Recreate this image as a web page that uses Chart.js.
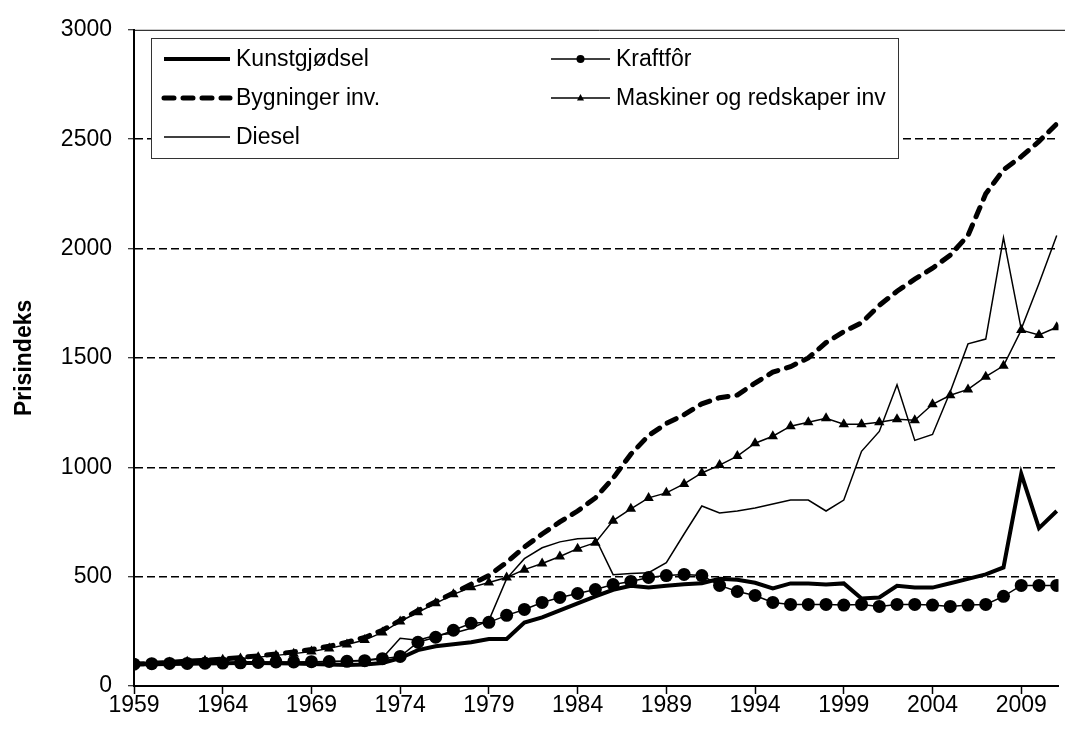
<!DOCTYPE html>
<html>
<head>
<meta charset="utf-8">
<script src="https://cdn.jsdelivr.net/npm/chart.js@4/dist/chart.umd.min.js"></script>
<style>
  html, body { margin: 0; padding: 0; background: #fff; }
  #wrap { width: 1065px; height: 729px; }
</style>
</head>
<body>
<div id="wrap"><canvas id="chart" width="1065" height="729"></canvas></div>
<script>
const years = [];
for (let y = 1959; y <= 2011; y++) years.push(y);

const xTickYears = [1959, 1964, 1969, 1974, 1979, 1984, 1989, 1994, 1999, 2004, 2009];

const kunstgjodsel = [100, 100, 101, 102, 103, 104, 105, 105, 104, 103, 101, 98, 96, 98, 105,
  127, 164, 182, 191, 200, 215, 215, 290, 314, 346, 378, 410, 440, 458, 450, 458, 465, 470,
  490, 486, 472, 446, 469, 469, 464, 469, 400, 405, 458, 450, 450, 470, 490, 510, 542, 970, 722, 800];

const kraftfor = [100, 102, 103, 103, 104, 105, 106, 108, 110, 110, 111, 112, 113, 116, 125,
  135, 200, 223, 255, 287, 291, 323, 350, 382, 405, 423, 441, 464, 478, 496, 505, 510, 505,
  460, 432, 414, 382, 373, 373, 373, 370, 373, 364, 373, 373, 370, 364, 370, 373, 410, 460, 460, 460];

const bygninger = [100, 104, 108, 113, 118, 123, 130, 138, 146, 156, 167, 182, 200, 222, 255,
  300, 345, 385, 425, 465, 505, 565, 635, 695, 750, 800, 860, 950, 1060, 1145, 1200, 1240, 1290,
  1318, 1330, 1385, 1435, 1460, 1500, 1570, 1620, 1660, 1740, 1805, 1860, 1910, 1970, 2060, 2250,
  2360, 2420, 2490, 2570];

const maskiner = [100, 103, 107, 111, 115, 120, 126, 132, 140, 148, 158, 172, 190, 210, 245,
  295, 337, 378, 419, 451, 473, 496, 532, 560, 592, 628, 655, 756, 810, 860, 883, 924, 974,
  1010, 1051, 1110, 1142, 1188, 1206, 1224, 1197, 1197, 1206, 1220, 1215, 1288, 1329, 1356,
  1414, 1464, 1627, 1605, 1640];

const diesel = [100, 100, 101, 102, 103, 104, 105, 106, 107, 108, 110, 112, 114, 118, 128,
  218, 209, 232, 241, 264, 300, 491, 582, 632, 659, 673, 677, 509, 514, 518, 564, 695, 823,
  791, 800, 814, 832, 850, 850, 800, 850, 1073, 1164, 1377, 1123, 1150, 1345, 1564, 1586,
  2050, 1632, 1840, 2060];

const FONT = "'Liberation Sans', Arial, sans-serif";

function toPoints(values) {
  return values.map((v, i) => ({x: years[i], y: v}));
}

// legend drawn inside a framed box, two columns like the original
const boxLegend = {
  id: 'boxLegend',
  afterDraw(chart) {
    const ctx = chart.ctx;
    const area = chart.chartArea;
    ctx.save();

    // top frame line
    ctx.strokeStyle = '#000';
    ctx.lineWidth = 1;
    ctx.setLineDash([]);
    ctx.beginPath();
    ctx.moveTo(area.left, area.top + 0.5);
    ctx.lineTo(chart.width, area.top + 0.5);
    ctx.stroke();

    // legend box
    ctx.fillStyle = '#fff';
    ctx.fillRect(151, 38, 747, 120);
    ctx.strokeStyle = '#333';
    ctx.strokeRect(151.5, 38.5, 747, 120);

    const slots = [
      {x1: 164, x2: 230, y: 59},
      {x1: 551, x2: 610, y: 59},
      {x1: 164, x2: 230, y: 98},
      {x1: 551, x2: 610, y: 98},
      {x1: 164, x2: 230, y: 137}
    ];
    ctx.font = '23px ' + FONT;
    ctx.textBaseline = 'middle';
    ctx.textAlign = 'left';
    chart.data.datasets.forEach((ds, i) => {
      const s = slots[i];
      ctx.strokeStyle = '#000';
      ctx.lineWidth = ds.borderWidth;
      ctx.setLineDash(ds.borderDash || []);
      ctx.lineCap = ds.borderCapStyle || 'butt';
      ctx.beginPath();
      ctx.moveTo(s.x1, s.y);
      ctx.lineTo(s.x2, s.y);
      ctx.stroke();
      ctx.setLineDash([]);
      const mx = (s.x1 + s.x2) / 2;
      ctx.fillStyle = '#000';
      if (ds.pointStyle === 'circle') {
        ctx.beginPath();
        ctx.arc(mx, s.y, 4, 0, Math.PI * 2);
        ctx.fill();
      } else if (ds.pointStyle === 'triangle') {
        ctx.beginPath();
        ctx.moveTo(mx, s.y - 4);
        ctx.lineTo(mx + 3.5, s.y + 2.5);
        ctx.lineTo(mx - 3.5, s.y + 2.5);
        ctx.closePath();
        ctx.fill();
      }
      ctx.fillStyle = '#000';
      ctx.fillText(ds.label, s.x2 + 6, s.y + 1);
    });
    ctx.restore();
  }
};

new Chart(document.getElementById('chart'), {
  type: 'line',
  data: {
    datasets: [
      {
        label: 'Kunstgjødsel',
        data: toPoints(kunstgjodsel),
        borderColor: '#000',
        borderWidth: 4,
        pointRadius: 0,
        order: 1
      },
      {
        label: 'Kraftfôr',
        data: toPoints(kraftfor),
        borderColor: '#000',
        backgroundColor: '#000',
        borderWidth: 1.5,
        pointStyle: 'circle',
        pointRadius: 6.5,
        pointBorderWidth: 0,
        order: 2
      },
      {
        label: 'Bygninger inv.',
        data: toPoints(bygninger),
        borderColor: '#000',
        borderWidth: 5,
        borderDash: [10, 9],
        borderCapStyle: 'round',
        pointRadius: 0,
        order: 3
      },
      {
        label: 'Maskiner og redskaper inv',
        data: toPoints(maskiner),
        borderColor: '#000',
        backgroundColor: '#000',
        borderWidth: 1.5,
        pointStyle: 'triangle',
        pointRadius: 6,
        pointBorderWidth: 0,
        order: 4
      },
      {
        label: 'Diesel',
        data: toPoints(diesel),
        borderColor: '#000',
        borderWidth: 1.5,
        pointRadius: 0,
        order: 5
      }
    ]
  },
  options: {
    responsive: false,
    animation: false,
    events: [],
    layout: {padding: {top: 27, right: 0, left: 0, bottom: 0}},
    plugins: {
      legend: {display: false},
      tooltip: {enabled: false}
    },
    elements: {line: {tension: 0}},
    scales: {
      x: {
        type: 'linear',
        min: 1959,
        max: 2011.1,
        afterBuildTicks(axis) {
          axis.ticks = xTickYears.map(v => ({value: v}));
        },
        afterFit(axis) { axis.height = 43; },
        grid: {
          drawOnChartArea: false,
          drawTicks: true,
          tickLength: 8,
          tickColor: '#000',
          tickWidth: 1.5
        },
        border: {display: true, color: '#000', width: 2},
        ticks: {
          color: '#000',
          font: {family: FONT, size: 23},
          padding: -2,
          maxRotation: 0,
          autoSkip: false,
          callback: v => String(v)
        }
      },
      y: {
        min: 0,
        max: 3000,
        afterFit(axis) { axis.width = 134; },
        grid: {
          color: c => (c.tick && (c.tick.value === 0 || c.tick.value === 3000)) ? 'rgba(0,0,0,0)' : '#000',
          lineWidth: 1.5,
          tickLength: 6,
          tickColor: '#000',
          tickWidth: 1
        },
        border: {display: true, color: '#000', width: 2, dash: [8, 4]},
        ticks: {
          stepSize: 500,
          color: '#000',
          font: {family: FONT, size: 23},
          padding: 16,
          callback: v => String(v)
        },
        title: {
          display: true,
          text: 'Prisindeks',
          color: '#000',
          font: {family: FONT, size: 23, weight: 'bold'},
          padding: {top: 11, bottom: 0}
        }
      }
    }
  },
  plugins: [boxLegend]
});
</script>
</body>
</html>
